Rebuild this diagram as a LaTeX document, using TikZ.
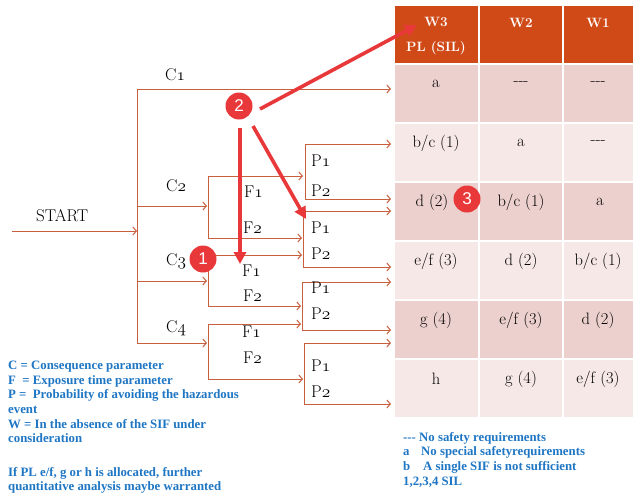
\documentclass[tikz,border=0pt]{standalone}
\usepackage{fontspec}
\newfontfamily\legfont{Liberation Serif}
\newfontfamily\numfont{Liberation Sans}
\usetikzlibrary{arrows.meta}
\definecolor{wirecol}{RGB}{200,96,62}
\definecolor{hdrcol}{RGB}{208,74,24}
\definecolor{rowdark}{RGB}{236,208,205}
\definecolor{rowlight}{RGB}{246,232,230}
\definecolor{callred}{RGB}{232,56,58}
\definecolor{legblue}{RGB}{30,118,196}
\newcommand{\osn}[1]{{\usefont{OML}{cmm}{m}{it}#1}}
\begin{document}
\begin{tikzpicture}[x=1pt,y=-1pt,
  wire/.style={draw=wirecol, line width=1pt},
  warr/.style={wire, -{Straight Barb[length=3.5pt,width=8pt]}},
  callout/.style={draw=callred, line width=3.6pt, -{Triangle[length=12pt,width=12pt]}},
  badge/.style={circle, fill=callred, text=white, minimum size=27pt, inner sep=0pt, font=\numfont\fontsize{17}{17}\selectfont},
  lbl/.style={font=\fontsize{17}{20}\selectfont, inner sep=0pt, anchor=west},
  cell/.style={font=\fontsize{16.5}{18}\selectfont, inner sep=0pt},
  hdrtxt/.style={font=\bfseries\fontsize{13.5}{25}\selectfont, text=white, inner sep=0pt, align=center},
  tcell/.style={draw=white, line width=2pt},
  legend/.style={font=\legfont\bfseries\fontsize{12.8}{14.6}\selectfont, text=legblue, inner sep=0pt, align=left, anchor=north west}
]
\clip (0,0) rectangle (634,493);
\fill[white] (0,0) rectangle (634,493);

% ---- table ----
\fill[tcell, fill=hdrcol] (394,5) rectangle (634,64);
\draw[tcell] (479,5) -- (479,64) (563,5) -- (563,64);
\foreach \t/\c in {64/rowdark,123/rowlight,182/rowdark,241/rowlight,300/rowdark,359/rowlight}{
  \filldraw[tcell, fill=\c] (394,\t) rectangle (479,\t+59);
  \filldraw[tcell, fill=\c] (479,\t) rectangle (563,\t+59);
  \filldraw[tcell, fill=\c] (563,\t) rectangle (634,\t+59);
}
\node[hdrtxt] (h1) at (436,36) {W3\\PL (SIL)};
\node[hdrtxt] (h2) at (521,23) {W2};
\node[hdrtxt] (h3) at (598,23) {W1};

\node[cell] (r1a) at (436,84) {a};
\node[cell] (r1b) at (521,84) {-{}-{}-};
\node[cell] (r1c) at (598,84) {-{}-{}-};
\node[cell] (r2a) at (436,143) {b/c (1)};
\node[cell] (r2b) at (521,143) {a};
\node[cell] (r2c) at (598,143) {-{}-{}-};
\node[cell] (r3a) at (432,202) {d (2)};
\node[cell] (r3b) at (521,202) {b/c (1)};
\node[cell] (r3c) at (600,202) {a};
\node[cell] (r4a) at (436,261) {e/f (3)};
\node[cell] (r4b) at (521,261) {d (2)};
\node[cell] (r4c) at (598,261) {b/c (1)};
\node[cell] (r5a) at (436,320) {g (4)};
\node[cell] (r5b) at (521,320) {e/f (3)};
\node[cell] (r5c) at (598,320) {d (2)};
\node[cell] (r6a) at (436,379) {h};
\node[cell] (r6b) at (521,379) {g (4)};
\node[cell] (r6c) at (598,379) {e/f (3)};

% ---- junction coordinates ----
\coordinate (s0) at (12,231);
\coordinate (v0t) at (137,89);
\coordinate (v0) at (137,231);
\coordinate (v0b) at (137,343);
\coordinate (c1e) at (391,89);
\coordinate (c2s) at (137,206); \coordinate (c2e) at (207,206);
\coordinate (c3s) at (137,281); \coordinate (c3e) at (207,281);
\coordinate (c4s) at (137,343); \coordinate (c4e) at (207,343);
% F forks
\coordinate (f2t) at (208,176); \coordinate (f2b) at (208,238);
\coordinate (f3t) at (208,255); \coordinate (f3b) at (208,306);
\coordinate (f4t) at (208,324); \coordinate (f4b) at (208,379);
\coordinate (f2te) at (303,176); \coordinate (f2be) at (302,238);
\coordinate (f3te) at (302,255); \coordinate (f3be) at (301,306);
\coordinate (f4te) at (301,324); \coordinate (f4be) at (303,379);
% P forks
\coordinate (pat) at (305,144); \coordinate (pab) at (305,199);
\coordinate (pbt) at (303,211); \coordinate (pbb) at (303,267);
\coordinate (pct) at (302,282); \coordinate (pcb) at (302,330);
\coordinate (pdt) at (304,343); \coordinate (pdb) at (304,404);
\coordinate (pate) at (391,144); \coordinate (pabe) at (391,199);
\coordinate (pbte) at (391,211); \coordinate (pbbe) at (391,267);
\coordinate (pcte) at (391,282); \coordinate (pcbe) at (391,330);
\coordinate (pdte) at (391,343); \coordinate (pdbe) at (391,404);

% ---- connectors ----
\draw[warr] (s0) -- (v0);
\draw[wire] (v0t) -- (v0b);
\draw[warr] (v0t) -- (c1e);
\draw[warr] (c2s) -- (c2e);
\draw[warr] (c3s) -- (c3e);
\draw[warr] (c4s) -- (c4e);
\draw[wire] (f2t) -- (f2b);
\draw[wire] (f3t) -- (f3b);
\draw[wire] (f4t) -- (f4b);
\draw[warr] (f2t) -- (f2te);
\draw[warr] (f2b) -- (f2be);
\draw[warr] (f3t) -- (f3te);
\draw[warr] (f3b) -- (f3be);
\draw[warr] (f4t) -- (f4te);
\draw[warr] (f4b) -- (f4be);
\draw[wire] (pat) -- (pab);
\draw[wire] (pbt) -- (pbb);
\draw[wire] (pct) -- (pcb);
\draw[wire] (pdt) -- (pdb);
\draw[warr] (pat) -- (pate);
\draw[warr] (pab) -- (pabe);
\draw[warr] (pbt) -- (pbte);
\draw[warr] (pbb) -- (pbbe);
\draw[warr] (pct) -- (pcte);
\draw[warr] (pcb) -- (pcbe);
\draw[warr] (pdt) -- (pdte);
\draw[warr] (pdb) -- (pdbe);

% ---- labels ----
\node[lbl] (start) at (36,216) {START};
\node[lbl] (lc1) at (165,75) {C\osn{1}};
\node[lbl] (lc2) at (166,186) {C\osn{2}};
\node[lbl] (lc3) at (166,261) {C\osn{3}};
\node[lbl] (lc4) at (166,328) {C\osn{4}};
\node[lbl] (lf21) at (244,192) {F\osn{1}};
\node[lbl] (lf22) at (243,228) {F\osn{2}};
\node[lbl] (lf31) at (242,271) {F\osn{1}};
\node[lbl] (lf32) at (243,296) {F\osn{2}};
\node[lbl] (lf41) at (242,332) {F\osn{1}};
\node[lbl] (lf42) at (243,358) {F\osn{2}};
\node[lbl] (lpa1) at (311,161) {P\osn{1}};
\node[lbl] (lpa2) at (311,191) {P\osn{2}};
\node[lbl] (lpb1) at (311,228) {P\osn{1}};
\node[lbl] (lpb2) at (311,254) {P\osn{2}};
\node[lbl] (lpc1) at (311,288) {P\osn{1}};
\node[lbl] (lpc2) at (311,314) {P\osn{2}};
\node[lbl] (lpd1) at (311,366) {P\osn{1}};
\node[lbl] (lpd2) at (311,392) {P\osn{2}};

% ---- legends ----
\node[legend] (leg1) at (8,361) {C = Consequence parameter\\
F\ \ = Exposure time parameter\\
P =\ \ Probability of avoiding the hazardous\\
event\\
W = In the absence of the SIF under\\
consideration};
\node[legend] (leg2) at (8,467) {If PL e/f, g or h is allocated, further\\
quantitative analysis maybe warranted};
\node[legend] (leg3) at (403,432) {-{}-{}- No safety requirements\\
\makebox[18pt][l]{a}No special safetyrequirements\\
\makebox[20pt][l]{b}A single SIF is not sufficient\\
1,2,3,4 SIL};

% ---- callouts ----
\coordinate (a1s) at (260,109); \coordinate (a1e) at (417,25);
\coordinate (a2s) at (240,128); \coordinate (a2e) at (240,264);
\coordinate (a3s) at (253,126); \coordinate (a3e) at (306,219);
\draw[callout] (a1s) -- (a1e);
\draw[callout] (a2s) -- (a2e);
\draw[callout] (a3s) -- (a3e);
\node[badge] (b1) at (203,259) {1};
\node[badge] (b2) at (239,106) {2};
\node[badge] (b3) at (467,199) {3};
\end{tikzpicture}
\end{document}
